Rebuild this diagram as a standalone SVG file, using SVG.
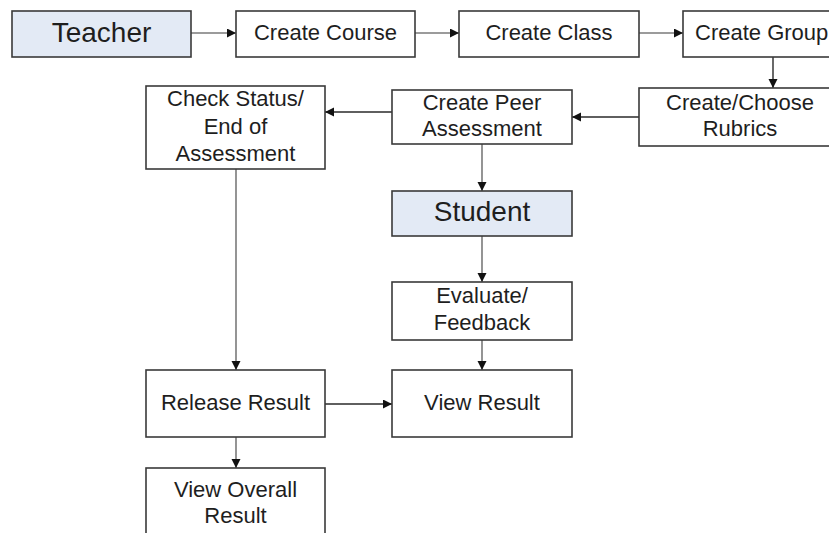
<svg xmlns="http://www.w3.org/2000/svg" width="829" height="533" viewBox="0 0 829 533">
<style>
.box{fill:#ffffff;stroke:#3a3a3a;stroke-width:1.6}
.actor{fill:#e3eaf5;stroke:#3a3a3a;stroke-width:1.6}
text{font-family:"Liberation Sans",Arial,sans-serif;font-size:22px;fill:#1e1e1e;text-anchor:middle}
.big{font-size:28px}
.c{fill:none;stroke:#7a7a7a;stroke-width:1.6}
.d{fill:none;stroke:#2a2a2a;stroke-width:1.4}
</style>
<defs>
<marker id="ah" markerUnits="userSpaceOnUse" markerWidth="10" markerHeight="10" refX="9" refY="4.5" orient="auto">
<path d="M0,0 L9,4.5 L0,9 z" fill="#111"/>
</marker>
</defs>
<rect width="829" height="533" fill="#ffffff"/>
<g id="connectors">
<line class="c" x1="191" y1="33" x2="236" y2="33" marker-end="url(#ah)"/>
<line class="c" x1="415" y1="33" x2="459" y2="33" marker-end="url(#ah)"/>
<line class="c" x1="639" y1="33" x2="683" y2="33" marker-end="url(#ah)"/>
<line class="d" x1="773" y1="57" x2="773" y2="88" marker-end="url(#ah)"/>
<line class="d" x1="639" y1="117" x2="572" y2="117" marker-end="url(#ah)"/>
<line class="d" x1="392" y1="112" x2="325" y2="112" marker-end="url(#ah)"/>
<line class="c" x1="482" y1="144" x2="482" y2="191" marker-end="url(#ah)"/>
<line class="c" x1="236" y1="169" x2="236" y2="370" marker-end="url(#ah)"/>
<line class="c" x1="482" y1="236" x2="482" y2="282" marker-end="url(#ah)"/>
<line class="c" x1="482" y1="340" x2="482" y2="370" marker-end="url(#ah)"/>
<line class="d" x1="325" y1="404" x2="392" y2="404" marker-end="url(#ah)"/>
<line class="c" x1="236" y1="437" x2="236" y2="468" marker-end="url(#ah)"/>
</g>
<g id="teacher"><rect class="actor" x="12" y="11" width="179" height="46"/><text class="big" x="101.5" y="42">Teacher</text></g>
<g id="create-course"><rect class="box" x="236" y="11" width="179" height="46"/><text x="325.5" y="40">Create Course</text></g>
<g id="create-class"><rect class="box" x="459" y="11" width="180" height="46"/><text x="549" y="40">Create Class</text></g>
<g id="create-group"><rect class="box" x="683" y="11" width="180" height="46"/><text x="695" y="40" style="text-anchor:start">Create Group</text></g>
<g id="rubrics"><rect class="box" x="639" y="88" width="202" height="58"/><text x="740" y="110">Create/Choose</text><text x="740" y="136">Rubrics</text></g>
<g id="peer"><rect class="box" x="392" y="90" width="180" height="54"/><text x="482" y="110">Create Peer</text><text x="482" y="136">Assessment</text></g>
<g id="check-status"><rect class="box" x="146" y="86" width="179" height="83"/><text x="235.5" y="106">Check Status/</text><text x="235.5" y="133.5">End of</text><text x="235.5" y="161">Assessment</text></g>
<g id="student"><rect class="actor" x="392" y="191" width="180" height="45"/><text class="big" x="482" y="221">Student</text></g>
<g id="evaluate"><rect class="box" x="392" y="282" width="180" height="58"/><text x="482" y="303">Evaluate/</text><text x="482" y="330">Feedback</text></g>
<g id="release"><rect class="box" x="146" y="370" width="179" height="67"/><text x="235.5" y="410">Release Result</text></g>
<g id="view-result"><rect class="box" x="392" y="370" width="180" height="67"/><text x="482" y="410">View Result</text></g>
<g id="overall"><rect class="box" x="146" y="468" width="179" height="80"/><text x="235.5" y="497">View Overall</text><text x="235.5" y="523">Result</text></g>
</svg>
